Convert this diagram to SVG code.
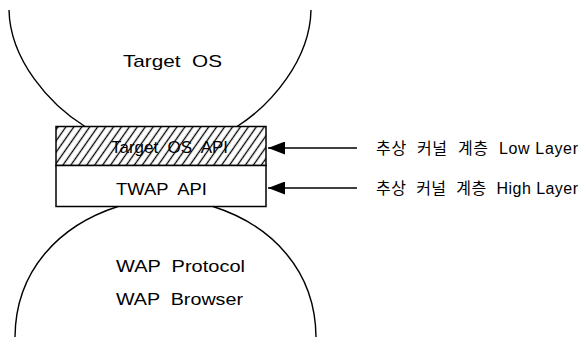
<svg xmlns="http://www.w3.org/2000/svg" width="583" height="337" viewBox="0 0 583 337" xml:space="preserve">
  <style>
    text { white-space: pre; }
    .outline { fill: none; stroke: #000; stroke-width: 1.4; }
    .box { stroke: #000; stroke-width: 1.5; }
    .lbl { font-family: "Liberation Sans", "Noto Sans CJK KR", sans-serif; font-size: 17px; fill: #000; }
    .side { font-family: "Liberation Sans", "Noto Sans CJK KR", sans-serif; font-size: 16px; fill: #000; }
    .conn { stroke: #000; stroke-width: 1.5; fill: none; }
  </style>
  <defs>
    <pattern id="hatch" patternUnits="userSpaceOnUse" width="6.5" height="6.5" patternTransform="rotate(35)">
      <line x1="3.25" y1="-1" x2="3.25" y2="8" stroke="#000" stroke-width="1.3"/>
    </pattern>
    <marker id="arrow" viewBox="0 0 17 13" refX="17" refY="6.5" markerWidth="17" markerHeight="13" markerUnits="userSpaceOnUse" orient="auto">
      <path d="M0,0 L17,6.5 L0,13 Z" fill="#000"/>
    </marker>
  </defs>
  <rect width="583" height="337" fill="#fff"/>

  <g id="target-os">
    <path class="outline" d="M9,10 C10,60 50,105 85,126.5"/>
    <path class="outline" d="M311,10 C310,60 271,105 237,126.5"/>
    <text class="lbl" x="123" y="67" textLength="99" lengthAdjust="spacingAndGlyphs">Target  OS</text>
  </g>

  <g id="target-os-api">
    <rect class="box" x="56" y="126.5" width="210" height="39" fill="url(#hatch)"/>
    <text class="lbl" x="111" y="153" textLength="117" lengthAdjust="spacingAndGlyphs">Target  OS  API</text>
  </g>

  <g id="twap-api">
    <rect class="box" x="56" y="165.5" width="210" height="41" fill="#fff"/>
    <text class="lbl" x="116" y="195" textLength="91" lengthAdjust="spacingAndGlyphs">TWAP  API</text>
  </g>

  <g id="wap">
    <path class="outline" d="M118,206.5 C60,225 15,270 15,338"/>
    <path class="outline" d="M213,206.5 C271,225 316,270 316,338"/>
    <text class="lbl" x="116" y="272" textLength="129" lengthAdjust="spacingAndGlyphs">WAP  Protocol</text>
    <text class="lbl" x="116" y="305" textLength="127" lengthAdjust="spacingAndGlyphs">WAP  Browser</text>
  </g>

  <g id="label-low">
    <text class="side" x="376" y="154" textLength="202" lengthAdjust="spacing">추상  커널  계층  Low Layer</text>
  </g>
  <g id="label-high">
    <text class="side" x="376" y="194" textLength="202" lengthAdjust="spacing">추상  커널  계층  High Layer</text>
  </g>

  <g id="connectors">
    <line class="conn" x1="357" y1="148" x2="268" y2="148" marker-end="url(#arrow)"/>
    <line class="conn" x1="357" y1="188" x2="268" y2="188" marker-end="url(#arrow)"/>
  </g>
</svg>
